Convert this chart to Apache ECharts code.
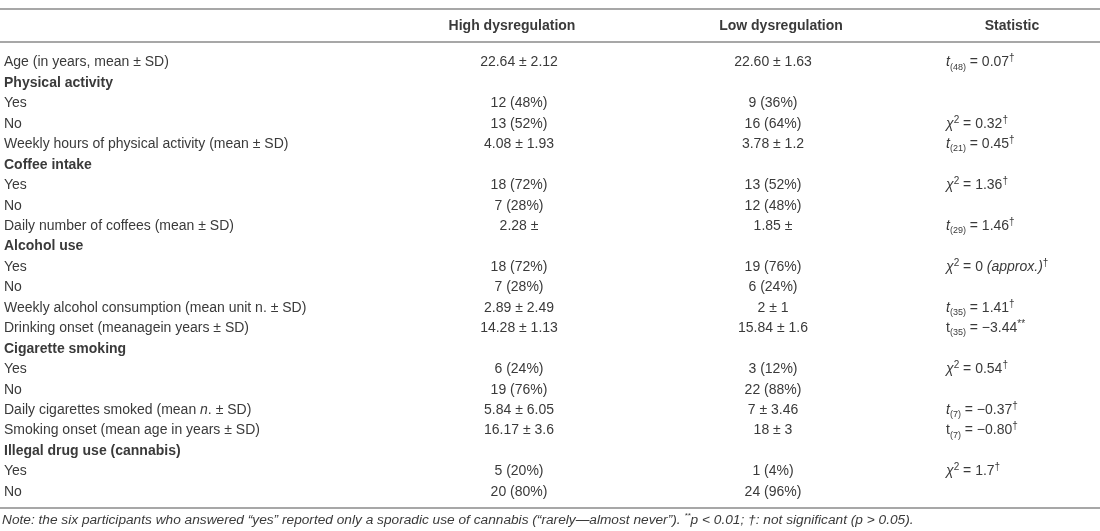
<!DOCTYPE html>
<html><head><meta charset="utf-8">
<script src="https://cdn.jsdelivr.net/npm/echarts@6/dist/echarts.min.js"></script>
<style>html,body{margin:0;background:#fff}#c{width:1100px;height:531px}</style>
</head><body><div id="c"></div>
<script>
// ---- data ----
const columnHeaders = ['High dysregulation', 'Low dysregulation', 'Statistic'];
const rowLabels = [
  'Age (in years, mean \u00b1 SD)',
  'Physical activity',
  'Yes',
  'No',
  'Weekly hours of physical activity (mean \u00b1 SD)',
  'Coffee intake',
  'Yes',
  'No',
  'Daily number of coffees (mean \u00b1 SD)',
  'Alcohol use',
  'Yes',
  'No',
  'Weekly alcohol consumption (mean unit n. \u00b1 SD)',
  'Drinking onset (meanagein years \u00b1 SD)',
  'Cigarette smoking',
  'Yes',
  'No',
  'Daily cigarettes smoked (mean {i|n}. \u00b1 SD)',
  'Smoking onset (mean age in years \u00b1 SD)',
  'Illegal drug use (cannabis)',
  'Yes',
  'No'
];
const sectionRows = [1, 5, 9, 14, 19];
const highValues = [
  '22.64 \u00b1 2.12', '', '12 (48%)', '13 (52%)', '4.08 \u00b1 1.93', '',
  '18 (72%)', '7 (28%)', '2.28 \u00b1', '', '18 (72%)', '7 (28%)',
  '2.89 \u00b1 2.49', '14.28 \u00b1 1.13', '', '6 (24%)', '19 (76%)',
  '5.84 \u00b1 6.05', '16.17 \u00b1 3.6', '', '5 (20%)', '20 (80%)'
];
const lowValues = [
  '22.60 \u00b1 1.63', '', '9 (36%)', '16 (64%)', '3.78 \u00b1 1.2', '',
  '13 (52%)', '12 (48%)', '1.85 \u00b1', '', '19 (76%)', '6 (24%)',
  '2 \u00b1 1', '15.84 \u00b1 1.6', '', '3 (12%)', '22 (88%)',
  '7 \u00b1 3.46', '18 \u00b1 3', '', '1 (4%)', '24 (96%)'
];
const statistics = [
  '{i|t}{sub|(48)}{n| = 0.07}{sup|\u2020}', '', '', '{i|\u03c7}{sup|2}{n| = 0.32}{sup|\u2020}',
  '{i|t}{sub|(21)}{n| = 0.45}{sup|\u2020}', '',
  '{i|\u03c7}{sup|2}{n| = 1.36}{sup|\u2020}', '', '{i|t}{sub|(29)}{n| = 1.46}{sup|\u2020}', '',
  '{i|\u03c7}{sup|2}{n| = 0 }{i|(approx.)}{sup|\u2020}', '',
  '{i|t}{sub|(35)}{n| = 1.41}{sup|\u2020}', '{n|t}{sub|(35)}{n| = \u22123.44}{sup|**}', '',
  '{i|\u03c7}{sup|2}{n| = 0.54}{sup|\u2020}', '',
  '{i|t}{sub|(7)}{n| = \u22120.37}{sup|\u2020}', '{n|t}{sub|(7)}{n| = \u22120.80}{sup|\u2020}', '',
  '{i|\u03c7}{sup|2}{n| = 1.7}{sup|\u2020}', ''
];
const footnote = '{fi|Note: the six participants who answered \u201cyes\u201d reported only a sporadic use of cannabis (\u201crarely\u2014almost never\u201d). }{fs|**}{fi|p < 0.01; \u2020: not significant (p > 0.05).}';

// ---- layout / style ----
const FONT = 'Liberation Sans, Arial, sans-serif';
const COLOR = '#3a3a3a';
const FS = 14;
const colLabelX = 4, colHighX = 519, colLowX = 773, colStatX = 946;
const LH = 18;
const rich = {
  n: {fontSize: FS, fontFamily: FONT, fill: COLOR, lineHeight: LH},
  i: {fontSize: FS, fontFamily: FONT, fill: COLOR, fontStyle: 'italic', lineHeight: LH},
  sub: {fontSize: 9, fontFamily: FONT, fill: COLOR, verticalAlign: 'bottom', lineHeight: LH},
  sup: {fontSize: 10, fontFamily: FONT, fill: COLOR, verticalAlign: 'top', lineHeight: LH},
  fi: {fontSize: 13.7, fontFamily: FONT, fill: COLOR, fontStyle: 'italic', lineHeight: 16},
  fs: {fontSize: 8, fontFamily: FONT, fill: COLOR, fontStyle: 'italic', verticalAlign: 'top', lineHeight: 16}
};

const rowIdx = rowLabels.map((_, i) => i);
const chart = echarts.init(document.getElementById('c'), null, {renderer: 'canvas'});

function labelText(i) {
  const t = rowLabels[i];
  return t.indexOf('{') >= 0 ? t.replace(/^([^{]*)\{i\|n\}(.*)$/, '{n|$1}{i|n}{n|$2}') : t;
}

chart.setOption({
  animation: false,
  grid: {left: 0, right: 0, top: 52.3, bottom: 28.8},
  xAxis: {type: 'value', min: 0, max: 1100, show: false},
  yAxis: {type: 'category', data: rowIdx, inverse: true, show: false},
  series: [{
    type: 'custom',
    data: rowIdx.map(i => [0, i]),
    encode: {x: 0, y: 1},
    renderItem: function (params, api) {
      const i = api.value(1);
      const y = api.coord([0, i])[1];
      const x = v => api.coord([v, i])[0];
      const bold = sectionRows.indexOf(i) >= 0;
      const lab = labelText(i);
      const children = [];
      if (lab.indexOf('{') >= 0) {
        children.push({type: 'text', style: {text: lab, rich: rich, x: x(colLabelX), y: y, align: 'left', verticalAlign: 'middle'}});
      } else {
        children.push({type: 'text', style: {text: lab, x: x(colLabelX), y: y, align: 'left', verticalAlign: 'middle',
          fontSize: FS, fontFamily: FONT, fill: COLOR, fontWeight: bold ? 'bold' : 'normal'}});
      }
      if (highValues[i]) children.push({type: 'text', style: {text: highValues[i], x: x(colHighX), y: y, align: 'center', verticalAlign: 'middle', fontSize: FS, fontFamily: FONT, fill: COLOR}});
      if (lowValues[i]) children.push({type: 'text', style: {text: lowValues[i], x: x(colLowX), y: y, align: 'center', verticalAlign: 'middle', fontSize: FS, fontFamily: FONT, fill: COLOR}});
      if (statistics[i]) children.push({type: 'text', style: {text: statistics[i], rich: rich, x: x(colStatX), y: y, align: 'left', verticalAlign: 'middle'}});
      return {type: 'group', children: children};
    }
  }],
  graphic: [
    {type: 'line', shape: {x1: 0, y1: 9, x2: 1100, y2: 9}, style: {stroke: '#8a8a8a', lineWidth: 1.5}},
    {type: 'line', shape: {x1: 0, y1: 42, x2: 1100, y2: 42}, style: {stroke: '#8a8a8a', lineWidth: 1.5}},
    {type: 'line', shape: {x1: 0, y1: 508, x2: 1100, y2: 508}, style: {stroke: '#8a8a8a', lineWidth: 1.5}},
    {type: 'text', style: {text: columnHeaders[0], x: 512, y: 26, align: 'center', verticalAlign: 'middle', fontSize: FS, fontWeight: 'bold', fontFamily: FONT, fill: COLOR}},
    {type: 'text', style: {text: columnHeaders[1], x: 781, y: 26, align: 'center', verticalAlign: 'middle', fontSize: FS, fontWeight: 'bold', fontFamily: FONT, fill: COLOR}},
    {type: 'text', style: {text: columnHeaders[2], x: 1012, y: 26, align: 'center', verticalAlign: 'middle', fontSize: FS, fontWeight: 'bold', fontFamily: FONT, fill: COLOR}},
    {type: 'text', style: {text: footnote, rich: rich, x: 2, y: 520, align: 'left', verticalAlign: 'middle'}}
  ]
});
</script></body></html>
